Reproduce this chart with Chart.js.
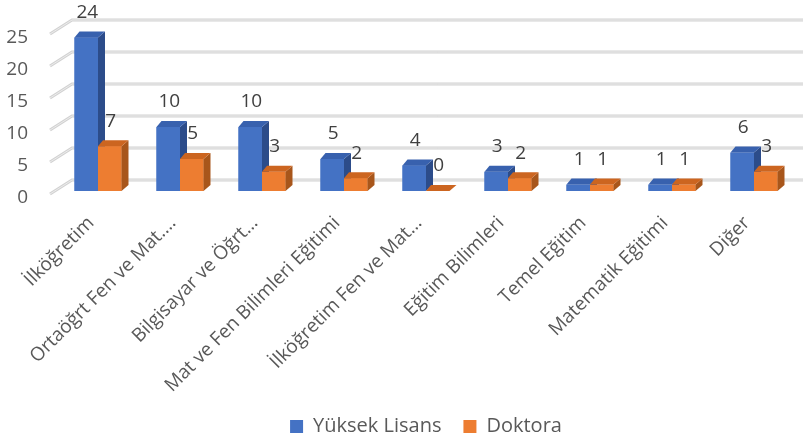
<!DOCTYPE html>
<html>
<head>
<meta charset="utf-8">
<script src="https://cdn.jsdelivr.net/npm/chart.js@4.4.0/dist/chart.umd.min.js"></script>
<style>
  html, body { margin: 0; padding: 0; background: #fff; }
  #wrap { width: 803px; height: 437px; position: relative; }
</style>
</head>
<body>
<div id="wrap"><canvas id="chart"></canvas></div>
<script>
const categories = [
  'İlköğretim',
  'Ortaöğrt Fen ve Mat.…',
  'Bilgisayar ve Öğrt…',
  'Mat ve Fen Bilimleri Eğitimi',
  'İlköğretim Fen ve Mat…',
  'Eğitim Bilimleri',
  'Temel Eğitim',
  'Matematik Eğitimi',
  'Diğer'
];
const yuksekLisans = [24, 10, 10, 5, 4, 3, 1, 1, 6];
const doktora = [7, 5, 3, 2, 0, 2, 1, 1, 3];
const yTicks = [0, 5, 10, 15, 20, 25];

const FONT = '"Open Sans", "DejaVu Sans", sans-serif';
const DEPTH_X = 7, DEPTH_Y = -6;   // oblique offset of the bar tops/sides

// front, top and side shades per series
const shades = [
  { front: '#4472C4', top: '#3861AE', side: '#2C4C8A' },
  { front: '#ED7D31', top: '#CC6520', side: '#A8561B' }
];

// back wall grid lines with the short diagonal floor edge on the left
const wallGrid = {
  id: 'wallGrid',
  beforeDatasetsDraw(chart) {
    const { ctx, chartArea, scales: { y } } = chart;
    ctx.save();
    const pass = (color, w) => {
      ctx.strokeStyle = color;
      ctx.lineWidth = w;
      yTicks.forEach(v => {
        const py = y.getPixelForValue(v);
        ctx.beginPath();
        ctx.moveTo(chartArea.left - 7, py + 3);
        ctx.lineTo(chartArea.left + 15, py - 11);
        ctx.lineTo(chart.width, py - 11);
        ctx.stroke();
      });
    };
    pass('#D2D2D2', 3);
    pass('#ECECEC', 1);
    ctx.restore();
  }
};

// extruded faces and value labels for each bar
const bars3d = {
  id: 'bars3d',
  afterDatasetsDraw(chart) {
    const { ctx } = chart;
    const metas = [chart.getDatasetMeta(0), chart.getDatasetMeta(1)];
    ctx.save();
    for (let i = 0; i < categories.length; i++) {
      metas.forEach((meta, d) => {
        const el = meta.data[i];
        const { x, y, base, width } = el.getProps(['x', 'y', 'base', 'width'], true);
        const l = x - width / 2, r = x + width / 2;
        const c = shades[d];
        ctx.fillStyle = c.front;
        ctx.fillRect(l, y, width, base - y);
        ctx.fillStyle = c.side;
        ctx.beginPath();
        ctx.moveTo(r, y);
        ctx.lineTo(r + DEPTH_X, y + DEPTH_Y);
        ctx.lineTo(r + DEPTH_X, base + DEPTH_Y);
        ctx.lineTo(r, base);
        ctx.closePath();
        ctx.fill();
        ctx.fillStyle = c.top;
        ctx.beginPath();
        ctx.moveTo(l, y);
        ctx.lineTo(l + DEPTH_X - 2, y + DEPTH_Y);
        ctx.lineTo(r + DEPTH_X, y + DEPTH_Y);
        ctx.lineTo(r, y);
        ctx.closePath();
        ctx.fill();
      });
    }
    ctx.fillStyle = '#404040';
    ctx.font = '19px ' + FONT;
    ctx.textAlign = 'center';
    ctx.textBaseline = 'middle';
    metas.forEach((meta, d) => {
      const vals = d === 0 ? yuksekLisans : doktora;
      meta.data.forEach((el, i) => {
        ctx.fillText(String(vals[i]), el.x + 1, el.y - 25);
      });
    });
    ctx.restore();
  }
};

// keep tick label overhang from shrinking the plot area
function noOverhang(scale) {
  scale.paddingTop = 0;
  scale.paddingBottom = 0;
  scale.paddingLeft = 0;
  scale.paddingRight = 0;
}

new Chart(document.getElementById('chart'), {
  type: 'bar',
  data: {
    labels: categories,
    datasets: [
      { label: 'Yüksek Lisans', data: yuksekLisans, backgroundColor: shades[0].front },
      { label: 'Doktora', data: doktora, backgroundColor: shades[1].front }
    ]
  },
  options: {
    responsive: true,
    maintainAspectRatio: false,
    animation: false,
    events: [],
    categoryPercentage: 0.573,
    barPercentage: 1,
    layout: { padding: { top: 31, right: 8, left: 0, bottom: -9.5 } },
    scales: {
      x: {
        grid: { display: false, drawTicks: false },
        border: { display: false },
        ticks: {
          color: '#595959',
          font: { family: FONT, size: 19 },
          minRotation: 45,
          maxRotation: 45,
          autoSkip: false,
          padding: 21,
          labelOffset: -7
        },
        afterFit(scale) { noOverhang(scale); scale.height = 203.5; }
      },
      y: {
        min: 0,
        max: 25,
        grid: { display: false, drawTicks: false },
        border: { display: false },
        ticks: {
          stepSize: 5,
          color: '#595959',
          font: { family: FONT, size: 19 },
          padding: 29,
          labelOffset: 7
        },
        afterFit(scale) { noOverhang(scale); scale.width = 57; }
      }
    },
    plugins: {
      tooltip: { enabled: false },
      legend: {
        position: 'bottom',
        fullSize: false,
        labels: {
          color: '#595959',
          font: { family: FONT, size: 20 },
          boxWidth: 13,
          boxHeight: 13,
          padding: 22
        }
      }
    }
  },
  plugins: [wallGrid, bars3d]
});
</script>
</body>
</html>
